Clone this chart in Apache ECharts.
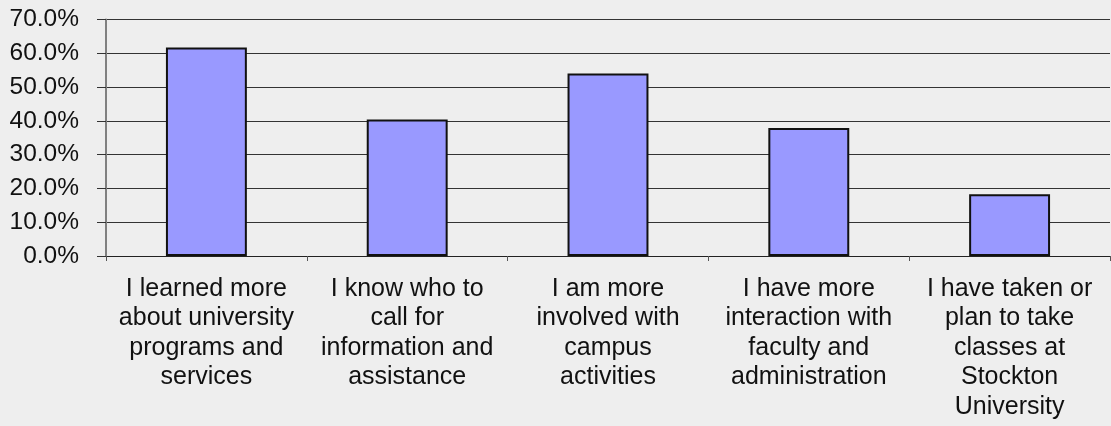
<!DOCTYPE html>
<html><head><meta charset="utf-8">
<script src="https://cdn.jsdelivr.net/npm/echarts@6/dist/echarts.min.js"></script>
<style>html,body{margin:0;padding:0;background:#eeeeee;}#c{width:1111px;height:426px;}</style>
</head><body><div id="c"></div>
<script>
const categories = [
  "I learned more\nabout university\nprograms and\nservices",
  "I know who to\ncall for\ninformation and\nassistance",
  "I am more\ninvolved with\ncampus\nactivities",
  "I have more\ninteraction with\nfaculty and\nadministration",
  "I have taken or\nplan to take\nclasses at\nStockton\nUniversity"
];
const values = [61.7, 40.4, 54.0, 37.9, 18.3];
const yMin = 0, yMax = 70, yStep = 10;

const chart = echarts.init(document.getElementById('c'), null, {renderer: 'canvas'});
chart.setOption({
  backgroundColor: '#eeeeee',
  animation: false,
  grid: {left: 106, right: 1, top: 19.5, bottom: 170, containLabel: false},
  xAxis: {
    type: 'category',
    data: categories,
    axisLine: {show: true, lineStyle: {color: '#222', width: 1}},
    axisTick: {show: true, alignWithLabel: false, length: 5, lineStyle: {color: '#555', width: 1}},
    axisLabel: {
      interval: 0, margin: 18, color: '#111',
      fontFamily: 'Liberation Sans, Arial, sans-serif', fontSize: 25, lineHeight: 29.5
    }
  },
  yAxis: {
    type: 'value', min: yMin, max: yMax, interval: yStep,
    axisLine: {show: true, lineStyle: {color: '#808080', width: 2}},
    axisTick: {show: true, length: 9, lineStyle: {color: '#333', width: 1}},
    splitLine: {show: true, lineStyle: {color: '#333', width: 1}},
    axisLabel: {
      margin: 27, color: '#111',
      fontFamily: 'Liberation Sans, Arial, sans-serif', fontSize: 24.5,
      formatter: v => v.toFixed(1) + '%'
    }
  },
  series: [{
    type: 'bar',
    data: values,
    barWidth: '40.3%',
    itemStyle: {color: '#9999ff', borderColor: '#111', borderWidth: 2}
  }]
});
</script></body></html>
